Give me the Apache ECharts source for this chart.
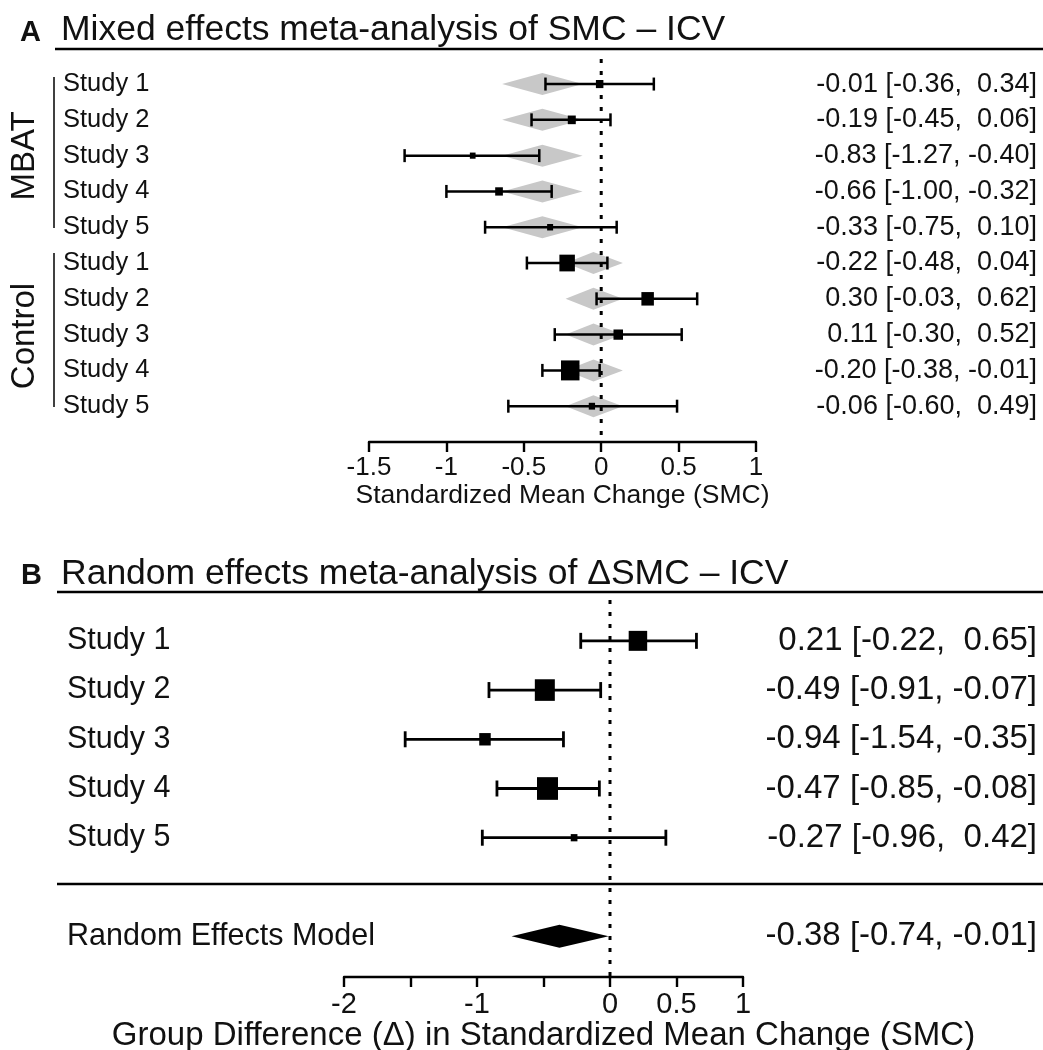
<!DOCTYPE html>
<html><head><meta charset="utf-8">
<script src="https://cdn.jsdelivr.net/npm/echarts@6/dist/echarts.min.js"></script>
<style>html,body{margin:0;padding:0;background:#fff}#c{width:1043px;height:1050px}</style>
</head><body><div id="c"></div>
<script>
// ---------- Panel A data ----------
const studiesA = ['Study 1','Study 2','Study 3','Study 4','Study 5','Study 1','Study 2','Study 3','Study 4','Study 5'];
const groupNamesA = ['MBAT','Control'];
const estA = [-0.01,-0.19,-0.83,-0.66,-0.33,-0.22,0.30,0.11,-0.20,-0.06];
const loA  = [-0.36,-0.45,-1.27,-1.00,-0.75,-0.48,-0.03,-0.30,-0.38,-0.60];
const hiA  = [0.34,0.06,-0.40,-0.32,0.10,0.04,0.62,0.52,-0.01,0.49];
const weightA = [7.5,8,5.7,7.7,6,15.5,12.5,9.5,18.5,6.3];
const fitA   = [-0.38,-0.38,-0.38,-0.38,-0.38,-0.05,-0.05,-0.05,-0.05,-0.05];
const fitLoA = [-0.64,-0.64,-0.64,-0.64,-0.64,-0.23,-0.23,-0.23,-0.23,-0.23];
const fitHiA = [-0.12,-0.12,-0.12,-0.12,-0.12,0.14,0.14,0.14,0.14,0.14];
const ticksA = [-1.5,-1,-0.5,0,0.5,1];
const titleA = 'Mixed effects meta-analysis of SMC \u2013 ICV';
const axisNameA = 'Standardized Mean Change (SMC)';

// ---------- Panel B data ----------
const studiesB = ['Study 1','Study 2','Study 3','Study 4','Study 5'];
const estB = [0.21,-0.49,-0.94,-0.47,-0.27];
const loB  = [-0.22,-0.91,-1.54,-0.85,-0.96];
const hiB  = [0.65,-0.07,-0.35,-0.08,0.42];
const weightB = [18.5,20,11.5,21,6.7];
const modelLabelB = 'Random Effects Model';
const modelEstB = -0.38, modelLoB = -0.74, modelHiB = -0.01;
const tickLabelsB = [-2,-1,0,0.5,1];
const titleB = 'Random effects meta-analysis of \u0394SMC \u2013 ICV';
const axisNameB = 'Group Difference (\u0394) in Standardized Mean Change (SMC)';

// ---------- helpers ----------
const pad5 = s => (s.length < 5 ? ' '.repeat(5 - s.length) + s : s);
const fmtCI = (e, l, h) => e.toFixed(2) + ' [' + pad5(l.toFixed(2)) + ', ' + pad5(h.toFixed(2)) + ']';
const FONT = "'Liberation Sans', Arial, Helvetica, sans-serif";
const INK = '#111';

const rowsA = studiesA.map((_, i) => i);
const labelsRightA = estA.map((e, i) => fmtCI(e, loA[i], hiA[i]));
const rowsB = studiesB.map((_, i) => i).concat([studiesB.length + 1]);
const labelsLeftB = studiesB.concat([modelLabelB]);
const labelsRightB = estB.map((e, i) => fmtCI(e, loB[i], hiB[i])).concat([fmtCI(modelEstB, modelLoB, modelHiB)]);

function ciRenderer(capHalf, lw) {
  return function (params, api) {
    const row = api.value(0), est = api.value(1), lo = api.value(2), hi = api.value(3), w = api.value(4);
    const pl = api.coord([lo, row]), ph = api.coord([hi, row]), pe = api.coord([est, row]);
    const st = { stroke: '#000', lineWidth: lw };
    const h = w * 1.08;
    return { type: 'group', children: [
      { type: 'line', shape: { x1: pl[0], y1: pl[1], x2: ph[0], y2: ph[1] }, style: st },
      { type: 'line', shape: { x1: pl[0], y1: pl[1] - capHalf, x2: pl[0], y2: pl[1] + capHalf }, style: st },
      { type: 'line', shape: { x1: ph[0], y1: ph[1] - capHalf, x2: ph[0], y2: ph[1] + capHalf }, style: st },
      { type: 'rect', shape: { x: pe[0] - w / 2, y: pe[1] - h / 2, width: w, height: h }, style: { fill: '#000' } }
    ]};
  };
}
function diamondRenderer(halfH, color) {
  return function (params, api) {
    const row = api.value(0), est = api.value(1), lo = api.value(2), hi = api.value(3);
    const pl = api.coord([lo, row]), ph = api.coord([hi, row]), pe = api.coord([est, row]);
    return { type: 'polygon', shape: { points: [[pl[0], pl[1]], [pe[0], pe[1] - halfH], [ph[0], ph[1]], [pe[0], pe[1] + halfH]] },
      style: { fill: color } };
  };
}

const yMinA = -0.7, yMaxA = 10, yMinB = -0.83, yMaxB = 6.83;

const option = {
  backgroundColor: '#fff',
  animation: false,
  textStyle: { fontFamily: FONT },
  title: [
    { text: 'A', left: 20, top: 18, padding: 0, textStyle: { fontFamily: FONT, fontWeight: 'bold', fontSize: 29, color: INK } },
    { text: titleA, left: 61, top: 12, padding: 0, textStyle: { fontFamily: FONT, fontWeight: 'normal', fontSize: 35.5, color: INK } },
    { text: 'B', left: 21, top: 561, padding: 0, textStyle: { fontFamily: FONT, fontWeight: 'bold', fontSize: 29, color: INK } },
    { text: titleB, left: 61, top: 556, padding: 0, textStyle: { fontFamily: FONT, fontWeight: 'normal', fontSize: 35.5, color: INK } }
  ],
  grid: [
    { left: 369, width: 387, top: 59, height: 383, containLabel: false, outerBoundsMode: 'none' },
    { left: 344, width: 399, top: 600, height: 377, containLabel: false, outerBoundsMode: 'none' }
  ],
  xAxis: [
    { gridIndex: 0, type: 'value', min: -1.5, max: 1, interval: 0.5, position: 'bottom',
      axisLine: { show: true, onZero: false, lineStyle: { color: '#000', width: 2.4 } },
      axisTick: { show: true, length: 10, lineStyle: { color: '#000', width: 2.4 } },
      axisLabel: { fontSize: 26, color: INK, margin: 13, showMinLabel: true, showMaxLabel: true,
        formatter: v => (ticksA.indexOf(v) >= 0 ? String(v) : '') },
      splitLine: { show: false },
      name: axisNameA, nameLocation: 'middle', nameGap: 40,
      nameTextStyle: { fontSize: 26.5, color: INK, fontFamily: FONT } },
    { gridIndex: 1, type: 'value', min: -2, max: 1, interval: 0.5, position: 'bottom',
      axisLine: { show: true, onZero: false, lineStyle: { color: '#000', width: 2.4 } },
      axisTick: { show: true, length: 10, lineStyle: { color: '#000', width: 2.4 } },
      axisLabel: { fontSize: 29, color: INK, margin: 13, showMinLabel: true, showMaxLabel: true,
        formatter: v => (tickLabelsB.indexOf(v) >= 0 ? String(v) : '') },
      splitLine: { show: false },
      name: axisNameB, nameLocation: 'middle', nameGap: 35,
      nameTextStyle: { fontSize: 33, color: INK, fontFamily: FONT } }
  ],
  yAxis: [
    { gridIndex: 0, type: 'value', inverse: true, min: yMinA, max: yMaxA, position: 'left',
      axisLine: { show: false }, axisTick: { show: false }, splitLine: { show: false },
      axisLabel: { customValues: rowsA, formatter: v => studiesA[Math.round(v)], align: 'left', margin: 306,
        fontSize: 25.5, color: INK } },
    { gridIndex: 0, type: 'value', inverse: true, min: yMinA, max: yMaxA, position: 'right',
      axisLine: { show: false }, axisTick: { show: false }, splitLine: { show: false },
      axisLabel: { customValues: rowsA, formatter: v => labelsRightA[Math.round(v)], align: 'right', margin: 281,
        fontSize: 27, color: INK } },
    { gridIndex: 1, type: 'value', inverse: true, min: yMinB, max: yMaxB, position: 'left',
      axisLine: { show: false }, axisTick: { show: false }, splitLine: { show: false },
      axisLabel: { customValues: rowsB, formatter: v => labelsLeftB[rowsB.indexOf(Math.round(v))], align: 'left', margin: 277,
        fontSize: 30.5, color: INK } },
    { gridIndex: 1, type: 'value', inverse: true, min: yMinB, max: yMaxB, position: 'right',
      axisLine: { show: false }, axisTick: { show: false }, splitLine: { show: false },
      axisLabel: { customValues: rowsB, formatter: v => labelsRightB[rowsB.indexOf(Math.round(v))], align: 'right', margin: 294,
        fontSize: 33, color: INK } }
  ],
  series: [
    { type: 'custom', xAxisIndex: 0, yAxisIndex: 0, renderItem: diamondRenderer(11, '#c8c8c8'),
      encode: { x: [1, 2, 3], y: 0 }, clip: false, z: 2,
      data: rowsA.map(i => [i, fitA[i], fitLoA[i], fitHiA[i]]) },
    { type: 'line', xAxisIndex: 0, yAxisIndex: 0, symbol: 'none', z: 3,
      lineStyle: { color: '#000', width: 3, type: [4, 8] },
      data: [[0, yMinA], [0, yMaxA]] },
    { type: 'custom', xAxisIndex: 0, yAxisIndex: 0, renderItem: ciRenderer(6.5, 2.5),
      encode: { x: [1, 2, 3], y: 0 }, clip: false, z: 4,
      data: rowsA.map(i => [i, estA[i], loA[i], hiA[i], weightA[i]]) },
    { type: 'line', xAxisIndex: 1, yAxisIndex: 2, symbol: 'none', z: 3,
      lineStyle: { color: '#000', width: 3, type: [4, 8] },
      data: [[0, yMinB], [0, yMaxB]] },
    { type: 'custom', xAxisIndex: 1, yAxisIndex: 2, renderItem: ciRenderer(8, 2.8),
      encode: { x: [1, 2, 3], y: 0 }, clip: false, z: 4,
      data: studiesB.map((_, i) => [i, estB[i], loB[i], hiB[i], weightB[i]]) },
    { type: 'custom', xAxisIndex: 1, yAxisIndex: 2, renderItem: diamondRenderer(11.5, '#000'),
      encode: { x: [1, 2, 3], y: 0 }, clip: false, z: 4,
      data: [[studiesB.length + 1, modelEstB, modelLoB, modelHiB]] }
  ],
  graphic: [
    { type: 'line', shape: { x1: 55, y1: 49, x2: 1043, y2: 49 }, style: { stroke: '#000', lineWidth: 2.5 } },
    { type: 'line', shape: { x1: 57, y1: 592, x2: 1043, y2: 592 }, style: { stroke: '#000', lineWidth: 2.5 } },
    { type: 'line', shape: { x1: 57, y1: 884, x2: 1043, y2: 884 }, style: { stroke: '#000', lineWidth: 2.5 } },
    { type: 'line', shape: { x1: 54, y1: 77, x2: 54, y2: 228 }, style: { stroke: '#000', lineWidth: 1.5 } },
    { type: 'line', shape: { x1: 54, y1: 253, x2: 54, y2: 407 }, style: { stroke: '#000', lineWidth: 1.5 } },
    { type: 'text', x: 25, y: 156, rotation: Math.PI / 2,
      style: { text: groupNamesA[0], fontFamily: FONT, fontSize: 33, fill: INK, textAlign: 'center', textVerticalAlign: 'middle' } },
    { type: 'text', x: 25, y: 336, rotation: Math.PI / 2,
      style: { text: groupNamesA[1], fontFamily: FONT, fontSize: 33, fill: INK, textAlign: 'center', textVerticalAlign: 'middle' } }
  ]
};
const chart = echarts.init(document.getElementById('c'), null, { renderer: 'canvas' });
chart.setOption(option);
</script></body></html>
